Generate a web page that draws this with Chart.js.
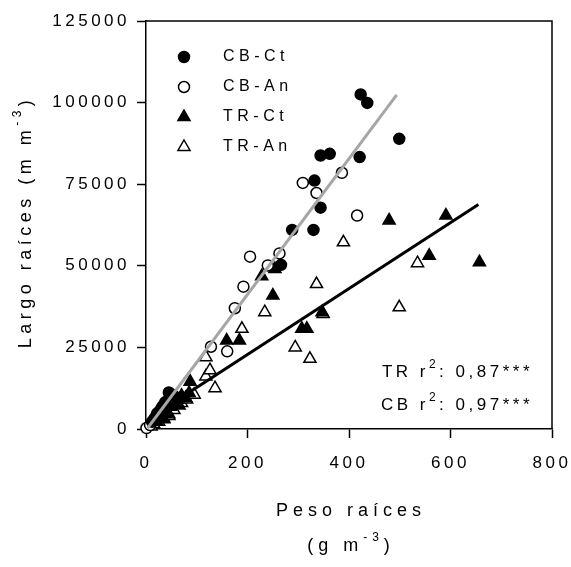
<!DOCTYPE html>
<html>
<head>
<meta charset="utf-8">
<script src="https://cdn.jsdelivr.net/npm/chart.js@4/dist/chart.umd.min.js"></script>
<style>
    body { margin: 0; background: #fff; }
</style>
</head>
<body>
<canvas id="myChart" width="571" height="567"></canvas>
<script>
// series (x = peso raices, y = largo raices)
let cbCtX = [12, 18, 22, 25, 28, 30, 33, 38, 45, 52, 58, 65, 266, 288, 330, 332, 344, 344, 362, 421, 423, 436, 499];
let cbCtY = [2200, 3500, 4800, 4200, 5500, 6200, 7000, 8200, 11200, 10500, 9800, 9000, 50300, 61000, 61000, 76100, 67800, 83800, 84300, 83300, 102500, 99900, 88900];

let cbAnX = [1, 8, 15, 20, 26, 35, 42, 48, 128, 160, 175, 192, 205, 240, 263, 309, 336, 386, 416];
let cbAnY = [300, 1200, 2800, 3800, 5200, 6800, 8500, 9500, 25200, 23800, 37000, 43600, 52800, 50100, 53800, 75400, 72300, 78500, 65400];

let trCtX = [20, 30, 35, 40, 45, 48, 55, 62, 65, 70, 78, 85, 87, 159, 184, 228, 250, 254, 307, 317, 347, 479, 558, 591, 657];
let trCtY = [2500, 4000, 3000, 5500, 4500, 6800, 8000, 9000, 7200, 10200, 9500, 11000, 14500, 27100, 27100, 46800, 40900, 49000, 30700, 30700, 35800, 63900, 53100, 65400, 51100];

let trAnX = [10, 15, 25, 35, 45, 55, 70, 80, 95, 118, 118, 126, 136, 189, 234, 294, 323, 336, 349, 389, 499, 535];
let trAnY = [800, 1500, 2200, 3200, 4000, 5800, 8000, 9000, 10500, 16100, 22000, 18000, 12500, 30700, 35800, 25000, 21500, 44400, 35200, 57200, 37300, 50800];

// fitted lines: slope, intercept, x range
let cbFit = [208, -400, 3, 494];
let trFit = [101, 2600, 12, 655];

let seriesNames = ['CB-Ct', 'CB-An', 'TR-Ct', 'TR-An'];
let r2Labels = [['TR r', '2', ': 0,87***'], ['CB r', '2', ': 0,97***']];

let xTicks = [0, 200, 400, 600, 800];
let yTicks = [0, 25000, 50000, 75000, 100000, 125000];

const FONT = '"Liberation Sans", Arial, Helvetica, sans-serif';
const SPACING = '3.5px';

function toPoints(xs, ys){
    return xs.map((x, i) => ({x: x, y: ys[i]}));
}

function fitLine(fit){
    return [fit[2], fit[3]].map(x => ({x: x, y: fit[0] * x + fit[1]}));
}

function drawMarker(ctx, style, x, y, filled){
    ctx.save();
    ctx.lineWidth = 1.5;
    ctx.strokeStyle = '#000';
    ctx.fillStyle = filled ? '#000' : '#fff';
    ctx.beginPath();
    if (style === 'circle'){
        ctx.arc(x, y, 5.5, 0, Math.PI * 2);
    } else {
        let r = 7;
        ctx.moveTo(x, y - r);
        ctx.lineTo(x + 0.866 * r, y + 0.5 * r);
        ctx.lineTo(x - 0.866 * r, y + 0.5 * r);
        ctx.closePath();
    }
    ctx.fill();
    ctx.stroke();
    ctx.restore();
}

// text with a superscript part: parts = [normal, sup, normal]
function drawRich(ctx, parts, x, y, align, size){
    let widths = parts.map((p, i) => {
        ctx.font = (i === 1 ? Math.round(size * 0.68) : size) + 'px ' + FONT;
        return ctx.measureText(p).width;
    });
    let total = widths.reduce((a, b) => a + b, 0);
    let cx = align === 'right' ? x - total : (align === 'center' ? x - total / 2 : x);
    parts.forEach((p, i) => {
        ctx.font = (i === 1 ? Math.round(size * 0.68) : size) + 'px ' + FONT;
        ctx.fillText(p, cx, i === 1 ? y - size * 0.45 : y);
        cx += widths[i];
    });
}

const spacingPlugin = {
    id: 'spacing',
    beforeUpdate(chart){ chart.ctx.letterSpacing = SPACING; },
    beforeDraw(chart){ chart.ctx.letterSpacing = SPACING; }
};

const decorPlugin = {
    id: 'decor',
    afterDraw(chart){
        let ctx = chart.ctx;
        let a = chart.chartArea;
        ctx.save();
        // frame top + right
        ctx.strokeStyle = '#000';
        ctx.lineWidth = 1.5;
        ctx.beginPath();
        ctx.moveTo(a.left, a.top);
        ctx.lineTo(a.right, a.top);
        ctx.lineTo(a.right, a.bottom);
        ctx.stroke();

        ctx.fillStyle = '#000';
        ctx.textBaseline = 'middle';
        ctx.letterSpacing = '4.5px';

        // legend
        let styles = ['circle', 'circle', 'triangle', 'triangle'];
        let filled = [true, false, true, false];
        seriesNames.forEach((name, i) => {
            let y = 57 + i * 30;
            drawMarker(ctx, styles[i], 184, y, filled[i]);
            ctx.font = '16px ' + FONT;
            ctx.textAlign = 'left';
            ctx.fillText(name, 223, y);
        });

        // r2 labels
        ctx.letterSpacing = '3.5px';
        ctx.textAlign = 'left';
        drawRich(ctx, r2Labels[0], 533, 372, 'right', 17);
        drawRich(ctx, r2Labels[1], 533, 405, 'right', 17);

        // x title
        ctx.letterSpacing = '5px';
        drawRich(ctx, ['Peso raíces', '', ''], 351, 511, 'center', 18);
        drawRich(ctx, ['(g m', '-3', ')'], 351, 546, 'center', 18);

        // y title
        ctx.letterSpacing = '4.5px';
        ctx.translate(26, 222);
        ctx.rotate(-Math.PI / 2);
        drawRich(ctx, ['Largo raíces (m m', '-3', ')'], 0, 0, 'center', 18);
        ctx.restore();
    }
};

let ctx = document.getElementById('myChart').getContext('2d');
let myChart = new Chart(ctx, {
    type: 'scatter',
    data: {
        datasets: [
            {label: seriesNames[0], data: toPoints(cbCtX, cbCtY), pointStyle: 'circle', pointRadius: 5.5,
             backgroundColor: '#000', borderColor: '#000', borderWidth: 1.5, order: 1, clip: false},
            {label: seriesNames[1], data: toPoints(cbAnX, cbAnY), pointStyle: 'circle', pointRadius: 5.5,
             backgroundColor: '#fff', borderColor: '#000', borderWidth: 1.5, order: 1, clip: false},
            {label: seriesNames[2], data: toPoints(trCtX, trCtY), pointStyle: 'triangle', pointRadius: 7,
             backgroundColor: '#000', borderColor: '#000', borderWidth: 1.5, order: 1, clip: false},
            {label: seriesNames[3], data: toPoints(trAnX, trAnY), pointStyle: 'triangle', pointRadius: 7,
             backgroundColor: '#fff', borderColor: '#000', borderWidth: 1.5, order: 1, clip: false},
            {label: 'CB fit', data: fitLine(cbFit), showLine: true, pointRadius: 0,
             borderColor: '#a6a6a6', borderWidth: 3, order: 0},
            {label: 'TR fit', data: fitLine(trFit), showLine: true, pointRadius: 0,
             borderColor: '#000', borderWidth: 3, order: 0}
        ]
    },
    options: {
        responsive: false,
        animation: false,
        layout: {padding: {top: 21, right: 19, bottom: 0, left: 0}},
        plugins: {
            legend: {display: false},
            tooltip: {enabled: false}
        },
        scales: {
            x: {
                type: 'linear',
                min: xTicks[0],
                max: xTicks[xTicks.length - 1],
                afterBuildTicks: s => { s.ticks = xTicks.map(v => ({value: v})); },
                ticks: {callback: v => String(v), color: '#000', font: {size: 17, family: FONT}, padding: 15, maxRotation: 0},
                grid: {drawOnChartArea: false, drawTicks: true, tickLength: 9, tickColor: '#000', tickWidth: 1.5},
                border: {color: '#000', width: 1.5},
                afterFit(s){ s.height = 138; s.paddingLeft = 0; s.paddingRight = 0; }
            },
            y: {
                type: 'linear',
                min: yTicks[0],
                max: yTicks[yTicks.length - 1],
                afterBuildTicks: s => { s.ticks = yTicks.map(v => ({value: v})); },
                ticks: {callback: v => String(v), color: '#000', font: {size: 17, family: FONT}, padding: 7},
                grid: {drawOnChartArea: false, drawTicks: true, tickLength: 9, tickColor: '#000', tickWidth: 1.5},
                border: {color: '#000', width: 1.5},
                afterFit(s){ s.width = 146; s.paddingTop = 0; s.paddingBottom = 0; }
            }
        }
    },
    plugins: [spacingPlugin, decorPlugin]
});
</script>
</body>
</html>
